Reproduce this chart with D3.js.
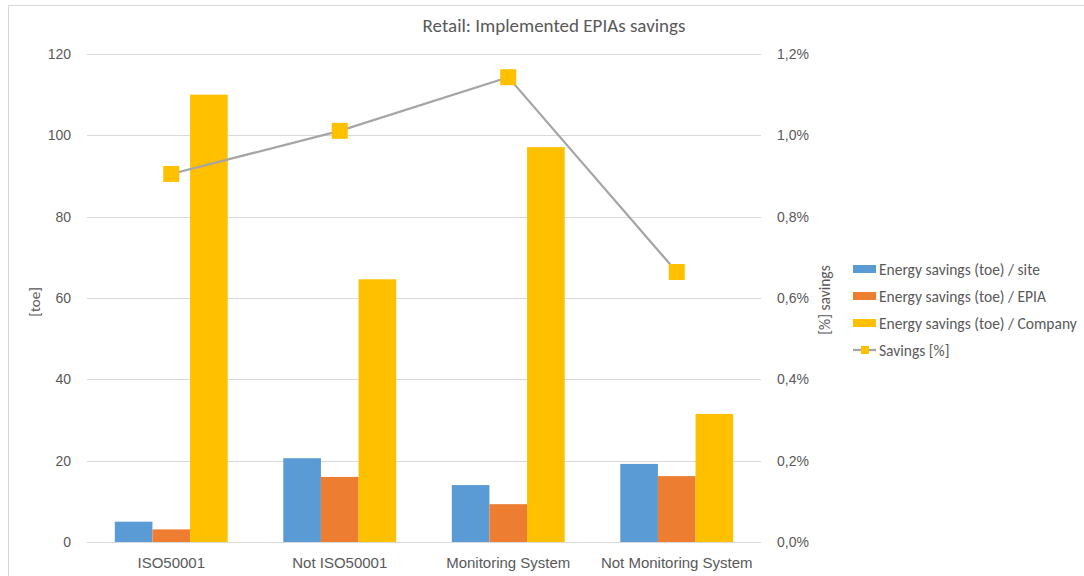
<!DOCTYPE html>
<html>
<head>
<meta charset="utf-8">
<script src="https://cdn.jsdelivr.net/npm/d3@7"></script>
<style>
  html, body { margin: 0; padding: 0; background: #fff; }
  svg { display: block; font-family: Calibri, Carlito, "Open Sans", sans-serif; }
</style>
</head>
<body>
<svg id="chart" width="1084" height="576"></svg>
<script>
// Categories and series (energy savings in toe, savings share in %)
const categories = ["ISO50001", "Not ISO50001", "Monitoring System", "Not Monitoring System"];
const seriesNames = [
  "Energy savings (toe) / site",
  "Energy savings (toe) / EPIA",
  "Energy savings (toe) / Company"
];
const perSite = [5, 20.6, 14, 19.2];
const perEpia = [3.1, 16, 9.3, 16.2];
const perCompany = [110, 64.6, 97.1, 31.5];
const savingsPct = [0.905, 1.011, 1.143, 0.664];
const leftTicks = [0, 20, 40, 60, 80, 100, 120];
const rightTicks = [0, 0.2, 0.4, 0.6, 0.8, 1.0, 1.2];

const colors = ["#5b9bd5", "#ed7d31", "#ffc000"];
const lineColor = "#a5a5a5";
const textColor = "#595959";
const gridColor = "#d9d9d9";

const svg = d3.select("#chart");
const margin = { left: 87, right: 761, top: 54, bottom: 542 };

// Outer chart frame
svg.append("rect")
  .attr("x", 8.5).attr("y", 5.5)
  .attr("width", 1100).attr("height", 600)
  .attr("fill", "none").attr("stroke", "#d9d9d9").attr("stroke-width", 1);

const x = d3.scaleBand().domain(categories).range([margin.left, margin.right]).paddingInner(0).paddingOuter(0);
const groupWidth = x.bandwidth() * 0.67;
const xs = d3.scaleBand().domain(d3.range(3)).range([0, groupWidth]).padding(0);
const yL = d3.scaleLinear().domain([0, 120]).range([margin.bottom, margin.top]);
const yR = d3.scaleLinear().domain([0, 1.2]).range([margin.bottom, margin.top]);

// Gridlines
svg.append("g").selectAll("line").data(leftTicks).join("line")
  .attr("x1", margin.left).attr("x2", margin.right)
  .attr("y1", d => Math.round(yL(d)) + 0.5).attr("y2", d => Math.round(yL(d)) + 0.5)
  .attr("stroke", gridColor).attr("stroke-width", 1);

// Left axis
const leftAxis = svg.append("g")
  .attr("transform", `translate(${margin.left},0)`)
  .call(d3.axisLeft(yL).tickValues(leftTicks).tickSize(0).tickPadding(16));
leftAxis.select(".domain").remove();
leftAxis.selectAll("text").attr("fill", textColor).style("font-size", "14px");

// Right axis
const rightAxis = svg.append("g")
  .attr("transform", `translate(${margin.right},0)`)
  .call(d3.axisRight(yR).tickValues(rightTicks).tickSize(0).tickPadding(16)
    .tickFormat(d => d3.format(".1f")(d).replace(".", ",") + "%"));
rightAxis.select(".domain").remove();
rightAxis.selectAll("text").attr("fill", textColor).style("font-size", "14px");

// Bottom category axis
const bottomAxis = svg.append("g")
  .attr("transform", `translate(0,${margin.bottom})`)
  .call(d3.axisBottom(x).tickSize(0).tickPadding(15));
bottomAxis.select(".domain").remove();
bottomAxis.selectAll("text").attr("fill", textColor).style("font-size", "15px");

// Bars
const series = [perSite, perEpia, perCompany];
const barG = svg.append("g");
series.forEach((vals, si) => {
  barG.selectAll(null).data(vals).join("rect")
    .attr("x", (d, i) => x(categories[i]) + (x.bandwidth() - groupWidth) / 2 + xs(si))
    .attr("width", xs.bandwidth())
    .attr("y", d => yL(d))
    .attr("height", d => yL(0) - yL(d))
    .attr("fill", colors[si]);
});

// Savings line with square markers
const cx = (d, i) => x(categories[i]) + x.bandwidth() / 2;
svg.append("path")
  .datum(savingsPct)
  .attr("d", d3.line().x(cx).y(d => yR(d)))
  .attr("fill", "none").attr("stroke", lineColor).attr("stroke-width", 2.25);
svg.append("g").selectAll("rect").data(savingsPct).join("rect")
  .attr("x", (d, i) => cx(d, i) - 8).attr("y", d => yR(d) - 8)
  .attr("width", 16).attr("height", 16)
  .attr("fill", "#ffc000");

// Title
svg.append("text")
  .attr("x", 554).attr("y", 32).attr("text-anchor", "middle")
  .attr("fill", textColor).style("font-size", "19px")
  .text("Retail: Implemented  EPIAs savings");

// Axis titles
svg.append("text")
  .attr("transform", `translate(40,302) rotate(-90)`)
  .attr("text-anchor", "middle").attr("fill", textColor).style("font-size", "15px")
  .text("[toe]");
svg.append("text")
  .attr("transform", `translate(830,300) rotate(-90)`)
  .attr("text-anchor", "middle").attr("fill", textColor).style("font-size", "15.5px")
  .text("[%] savings");

// Legend
const legend = svg.append("g").attr("transform", "translate(853,269)");
seriesNames.forEach((name, i) => {
  const g = legend.append("g").attr("transform", `translate(0,${i * 27})`);
  g.append("rect").attr("x", 0).attr("y", -4).attr("width", 23).attr("height", 8).attr("fill", colors[i]);
  g.append("text").attr("x", 26).attr("y", 5.5).attr("fill", textColor).style("font-size", "15.5px").text(name);
});
const lg = legend.append("g").attr("transform", "translate(0,81)");
lg.append("line").attr("x1", 0).attr("x2", 23).attr("y1", 0).attr("y2", 0).attr("stroke", lineColor).attr("stroke-width", 2.25);
lg.append("rect").attr("x", 8).attr("y", -4).attr("width", 8).attr("height", 8).attr("fill", "#ffc000");
lg.append("text").attr("x", 26).attr("y", 5.5).attr("fill", textColor).style("font-size", "15.5px").text("Savings [%]");
</script>
</body>
</html>
